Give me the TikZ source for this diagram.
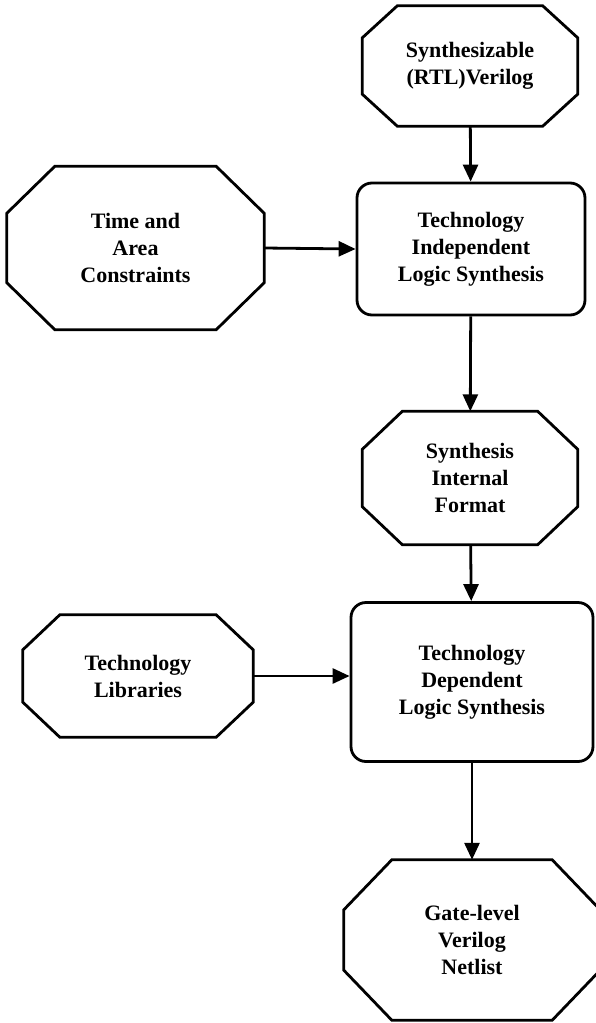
\documentclass[tikz,border=0pt]{standalone}
\usepackage{fontspec}
\setmainfont{Liberation Serif}
\usetikzlibrary{arrows.meta, calc}

% octagon frame round a named node: node, x cut, y cut
\newcommand{\octframe}[3]{%
  \draw[line width=2.8pt, line join=miter]
    ([xshift=#2]#1.north west) -- ([xshift=-#2]#1.north east)
    -- ([yshift=-#3]#1.north east) -- ([yshift=#3]#1.south east)
    -- ([xshift=-#2]#1.south east) -- ([xshift=#2]#1.south west)
    -- ([yshift=#3]#1.south west) -- ([yshift=-#3]#1.north west) -- cycle;}

\begin{document}
\begin{tikzpicture}[x=1pt, y=-1pt,
    octo/.style={rectangle, align=center, inner sep=0pt, font=\fontsize{22}{27}\selectfont\bfseries},
    caixa/.style={rectangle, rounded corners=15pt, draw, line width=2.8pt, align=center, inner sep=0pt, font=\fontsize{22}{27}\selectfont\bfseries},
    seta/.style={-{Triangle[length=17pt, width=15pt]}, line width=2.8pt}
  ]
    \useasboundingbox (0,0) rectangle (595,1023);

    \node[octo, minimum width=215pt, minimum height=120pt] (verilog) at (470,66) {Synthesizable\\(RTL)Verilog};
    \octframe{verilog}{35pt}{32pt}
    \node[caixa, minimum width=228pt, minimum height=132pt] (indep) at (471,249) {Technology\\Independent\\Logic Synthesis};
    \node[octo, minimum width=257pt, minimum height=163pt] (constr) at (135.5,248) {Time and\\Area\\Constraints};
    \octframe{constr}{48pt}{47pt}
    \draw[seta] (verilog) -- (indep);
    \draw[seta] (constr.east) -- (indep.west);

    \node[octo, minimum width=215pt, minimum height=133pt] (format) at (470,478) {Synthesis\\Internal\\Format};
    \octframe{format}{40pt}{38pt}
    \draw[seta] (indep) -- (format);

    \node[caixa, minimum width=242pt, minimum height=159pt] (dep) at (472,682) {Technology\\Dependent\\Logic Synthesis};
    \node[octo, minimum width=230pt, minimum height=122pt] (libs) at (138,676) {Technology\\Libraries};
    \octframe{libs}{37pt}{35pt}
    \draw[seta] (format) -- (dep);
    \draw[seta] (libs.east) -- (libs.east -| dep.west);

    \node[octo, minimum width=256pt, minimum height=160pt] (netlist) at (472,940) {Gate-level\\Verilog\\Netlist};
    \octframe{netlist}{48pt}{50pt}
    \draw[seta] (dep) -- (netlist);
\end{tikzpicture}
\end{document}
